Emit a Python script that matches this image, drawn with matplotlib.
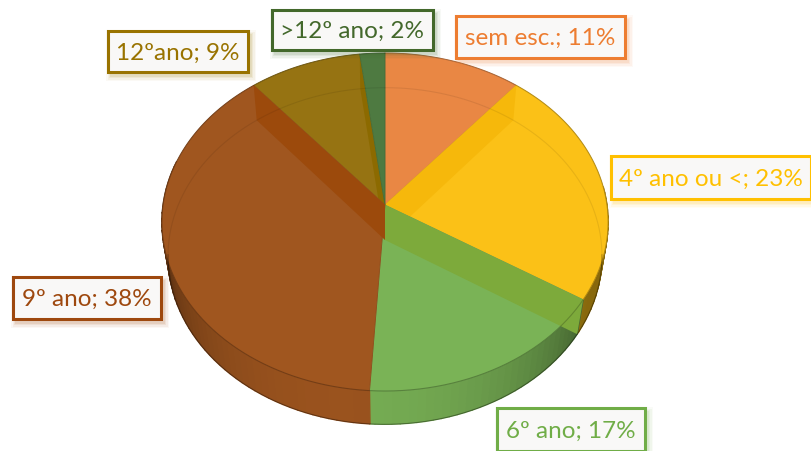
# -*- coding: utf-8 -*-
"""
3D-looking pie of schooling levels, drawn by hand because matplotlib's pie is flat.
"""
import numpy as np
import matplotlib
matplotlib.use('Agg')
import matplotlib.pyplot as plt
from matplotlib.patches import Polygon, Rectangle

plt.rcParams['font.family'] = ['Lato', 'DejaVu Sans']

names = ['sem esc.', '4º ano ou <', '6º ano', '9º ano', '12ºano', '>12º ano']
values = [11, 23, 17, 38, 9, 2]

face_colors = ['#E98744', '#FBC117', '#7AB356', '#A0561F', '#967312', '#4E7A41']
wall_colors = ['#E07A30', '#F6B80B', '#7DAA3B', '#9C4A0C', '#8C6A00', '#44702F']
text_colors = ['#ED7D31', '#FFC000', '#70AD47', '#9E480E', '#997300', '#43682B']

# label boxes in pixels: left, top, right, bottom
boxes = [(456, 16, 625, 58), (611, 156, 811, 199), (497, 408, 645, 451),
         (13, 277, 161, 319), (108, 31, 248, 72), (272, 10, 433, 50)]


def top_xy(theta):
    '''theta in degrees clockwise from the top, returns pixel position on the top rim'''
    t = np.radians(theta)
    u, v = np.sin(t), np.cos(t)
    d = 1 + 0.1006 * v
    return 385 + 222 * u / d, (205 - 146.67 * v) / d


def base_xy(theta):
    '''same thing for the lower rim'''
    t = np.radians(theta)
    u, v = np.sin(t), np.cos(t)
    d = 1 + 0.095 * v
    return 385 + 216 * u / d, (240 - 144 * v) / d


def shade(hex_color, f):
    rgb = np.array(matplotlib.colors.to_rgb(hex_color))
    return tuple(rgb * f)


fig = plt.figure(figsize=(8.11, 4.51), dpi=100)
ax = fig.add_axes([0, 0, 1, 1])
ax.set_xlim(0, 811)
ax.set_ylim(451, 0)
ax.axis('off')

edges = np.cumsum([0] + values) * 3.6

# outer wall first, in thin strips so it gets darker towards the sides
for i in range(len(values)):
    a = edges[i]
    while a < edges[i + 1]:
        b = min(a + 2, edges[i + 1])
        if 85 < b and a < 285:
            f = 0.96 - 0.42 * min(abs((a + b) / 2 - 190) / 70, 1) ** 2
            pts = [top_xy(a), top_xy(b), base_xy(b), base_xy(a)]
            ax.add_patch(Polygon(pts, closed=True, facecolor=shade(face_colors[i], f),
                                 edgecolor=shade(face_colors[i], f), lw=1.0, zorder=1))
        a = b

# brown goes last so it hides the bottom of the olive wall
draw_order = [0, 1, 2, 4, 5, 3]
z = 2
for i in draw_order:
    arc = np.linspace(edges[i], edges[i + 1], 100)
    xs, ys = top_xy(arc)
    pts = np.column_stack([np.r_[385, xs], np.r_[205, ys]])
    ax.add_patch(Polygon(pts, closed=True, facecolor=face_colors[i],
                         edgecolor=shade(face_colors[i], 0.9), lw=0.6, zorder=z))
    z += 1
    # inner wall seen through the slice
    if edges[i] > 0 and edges[i] < 180:
        th = edges[i]
    elif edges[i + 1] > 180 and edges[i + 1] < 360:
        th = edges[i + 1]
    else:
        th = None
    if th is not None:
        band = [(385, 205), top_xy(th), base_xy(th), (385, 240)]
        ax.add_patch(Polygon(band, closed=True, facecolor=wall_colors[i],
                             edgecolor='none', zorder=z))
        z += 1

# rim lines
ring = np.linspace(0, 360, 361)
ax.plot(*top_xy(ring), color='black', alpha=0.2, lw=0.8, zorder=z)
ax.plot(*base_xy(ring), color='black', alpha=0.08, lw=0.8, zorder=z)
ax.plot(*base_xy(np.linspace(95, 265, 171)), color='black', alpha=0.35, lw=0.6, zorder=z)
z += 1

# labels with soft shadow
for i in range(len(values)):
    x0, y0, x1, y1 = boxes[i]
    for grow, al in zip([5, 3.5, 2, 1], [0.04, 0.06, 0.08, 0.1]):
        ax.add_patch(Rectangle((x0 + 3 - grow, y0 + 4 - grow), x1 - x0 + 2 * grow,
                               y1 - y0 + 2 * grow, facecolor=text_colors[i],
                               edgecolor='none', alpha=al, zorder=z))
    ax.add_patch(Rectangle((x0, y0), x1 - x0, y1 - y0, facecolor='#F9F8F7',
                           edgecolor=text_colors[i], lw=2.2, zorder=z + 1))
    ax.text((x0 + x1) / 2, (y0 + y1) / 2 + 1.5, f'{names[i]}; {values[i]}%', ha='center',
            va='center', fontsize=17.5, color=text_colors[i], zorder=z + 2)

fig.savefig('out.png', dpi=100)
